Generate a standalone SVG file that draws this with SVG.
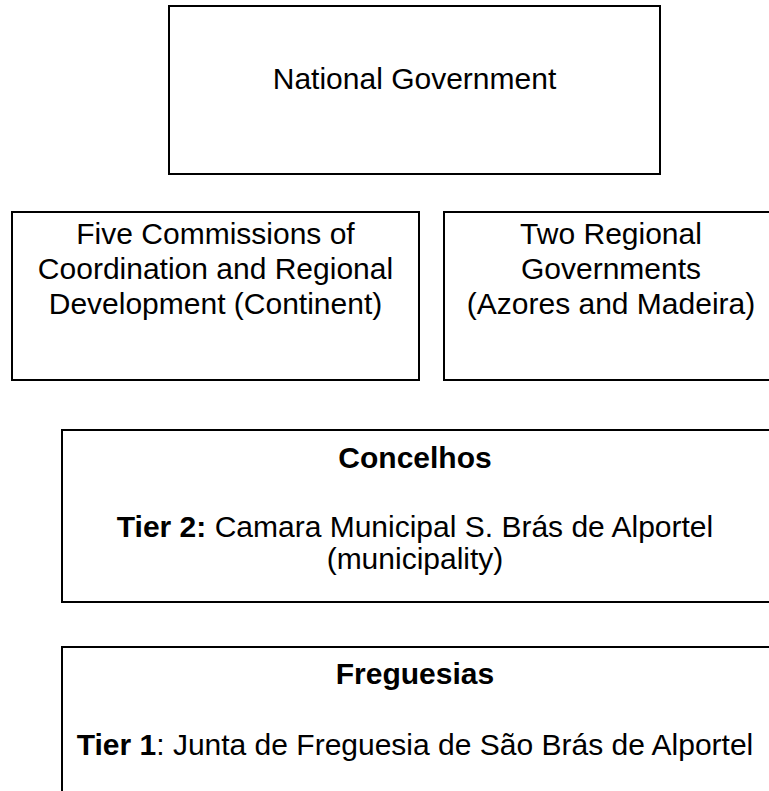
<svg xmlns="http://www.w3.org/2000/svg" width="769" height="791" viewBox="0 0 769 791">
<style>
.box{fill:#fff;stroke:#000;stroke-width:2}
.t{font-family:"Liberation Sans",Arial,sans-serif;font-size:30px;fill:#000;text-anchor:middle}
.b{font-weight:bold}
</style>
<rect width="769" height="791" fill="#fff"/>
<g id="connectors"></g>
<g id="national">
<rect class="box" x="169" y="6" width="491" height="168"/>
<text class="t" x="414.5" y="89">National Government</text>
</g>
<g id="commissions">
<rect class="box" x="12" y="212" width="407" height="168"/>
<text class="t" x="215.5" y="244">Five Commissions of</text>
<text class="t" x="215.5" y="279">Coordination and Regional</text>
<text class="t" x="215.5" y="314">Development (Continent)</text>
</g>
<g id="regional">
<rect class="box" x="444" y="212" width="334" height="168"/>
<text class="t" x="611" y="244">Two Regional</text>
<text class="t" x="611" y="279">Governments</text>
<text class="t" x="611" y="314">(Azores and Madeira)</text>
</g>
<g id="concelhos">
<rect class="box" x="62" y="430" width="709" height="172"/>
<text class="t b" x="415" y="468">Concelhos</text>
<text class="t" x="415" y="537"><tspan class="b">Tier 2:</tspan> Camara Municipal S. Brás de Alportel</text>
<text class="t" x="415" y="569">(municipality)</text>
</g>
<g id="freguesias">
<rect class="box" x="62" y="647" width="709" height="160"/>
<text class="t b" x="415" y="684">Freguesias</text>
<text class="t" x="415" y="755"><tspan class="b">Tier 1</tspan>: Junta de Freguesia de São Brás de Alportel</text>
</g>
</svg>
